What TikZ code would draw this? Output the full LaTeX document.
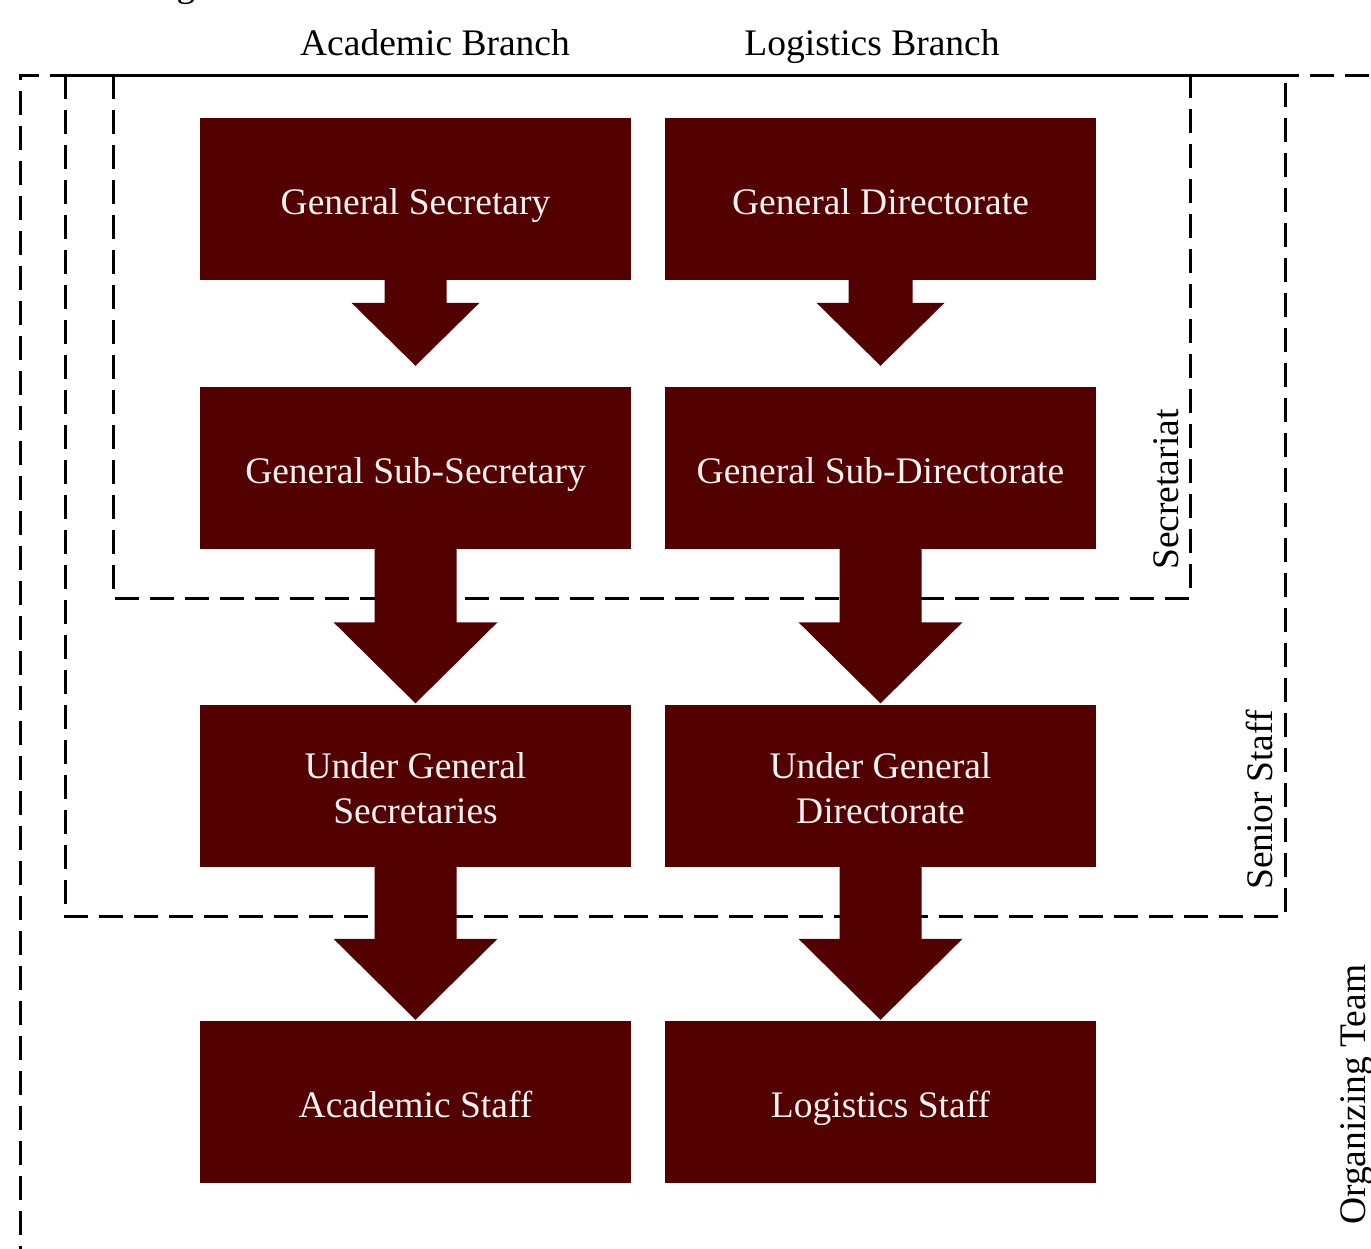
\documentclass[tikz,border=0pt]{standalone}
\usepackage{fontspec}
\setmainfont{Liberation Serif}
\usetikzlibrary{calc}
\definecolor{boxred}{RGB}{82,0,0}
\definecolor{boxtext}{RGB}{250,242,242}
\newcommand\bigfont{\fontsize{37.5}{45}\selectfont}
\newcommand\topstrut{\rule{0pt}{40pt}}
\newcommand\botstrut{\rule[-8.5pt]{0pt}{8.5pt}}
% #1 from node, #2 to node, #3 shaft half width, #4 head half width, #5 head length, #6 gap before target
\newcommand\flowarrow[6]{%
  \fill[boxred] ($(#1.south)+(-#3,-1)$) -- ($(#2.north)+(-#3,-#5-#6)$) -- ($(#2.north)+(-#4,-#5-#6)$)
    -- ($(#2.north)+(0,-#6)$) -- ($(#2.north)+(#4,-#5-#6)$) -- ($(#2.north)+(#3,-#5-#6)$)
    -- ($(#1.south)+(#3,-1)$) -- cycle;}
\tikzset{
  orgbox/.style={fill=boxred, text=boxtext, minimum width=431pt, minimum height=162pt,
    inner sep=0pt, align=center, font=\bigfont},
  dashbox/.style={line width=3pt, dash pattern=on 24pt off 11pt},
  solidedge/.style={line width=3pt},
  sidelabel/.style={rotate=90, anchor=base west, inner sep=0pt, font=\bigfont},
  toplabel/.style={anchor=base, inner sep=0pt, font=\bigfont}
}
\begin{document}
\begin{tikzpicture}[x=1pt,y=-1pt]
\useasboundingbox (0,0) rectangle (1371,1248);
\clip (0,0) rectangle (1371,1248);
\fill[white] (0,0) rectangle (1371,1248);
% cropped title fragment (only its descender is visible, as in the reference)
\node[toplabel] (frag) at (186,-4) {g};
% top labels
\node[toplabel] (acad) at (435,55) {Academic Branch};
\node[toplabel] (logi) at (872,55) {Logistics Branch};
% dashed group frames
\draw[dashbox] (113,75) -- (113,598) -- (1190,598) -- (1190,75);
\draw[dashbox] (65,75) -- (65,916) -- (1285,916) -- (1285,75);
\draw[dashbox] (20,1270) -- (20,75) -- (1400,75);
\draw[solidedge] (55,75) -- (1285,75);
% group labels
\node[sidelabel] (secr) at (1178,570) {Secretariat};
\node[sidelabel] (seni) at (1272,890) {Senior Staff};
\node[sidelabel] (orgt) at (1365,1225) {Organizing Team};
% boxes
\node[orgbox] (gs)  at (415.5,198.5) {\topstrut General Secretary\botstrut};
\node[orgbox] (gd)  at (880.5,198.5) {\topstrut General Directorate\botstrut};
\node[orgbox] (gss) at (415.5,468) {\topstrut General Sub-Secretary\botstrut};
\node[orgbox] (gsd) at (880.5,468) {\topstrut General Sub-Directorate\botstrut};
\node[orgbox] (ugs) at (415.5,785.5) {\topstrut Under General\\Secretaries\botstrut};
\node[orgbox] (ugd) at (880.5,785.5) {\topstrut Under General\\Directorate\botstrut};
\node[orgbox] (as)  at (415.5,1102) {\topstrut Academic Staff\botstrut};
\node[orgbox] (ls)  at (880.5,1102) {\topstrut Logistics Staff\botstrut};
% arrows
\flowarrow{gs}{gss}{31}{64}{63}{21}
\flowarrow{gd}{gsd}{32}{64}{63}{21}
\flowarrow{gss}{ugs}{41}{82}{81}{1}
\flowarrow{gsd}{ugd}{41}{82}{81}{1}
\flowarrow{ugs}{as}{41}{82}{81}{1}
\flowarrow{ugd}{ls}{41}{82}{81}{1}
\end{tikzpicture}
\end{document}
